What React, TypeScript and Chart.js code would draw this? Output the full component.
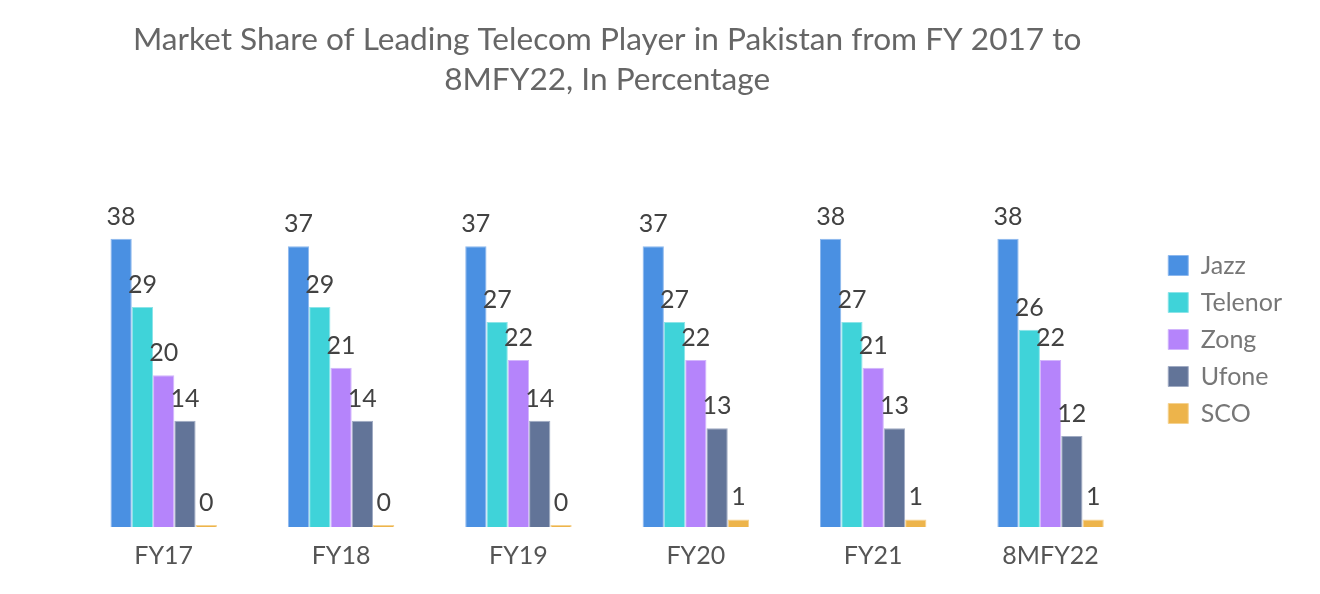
import React, { useEffect, useRef } from "react";
import { Chart, registerables } from "chart.js";

Chart.register(...registerables);

const categories = ["FY17", "FY18", "FY19", "FY20", "FY21", "8MFY22"];
const jazz = [38, 37, 37, 37, 38, 38];
const telenor = [29, 29, 27, 27, 27, 26];
const zong = [20, 21, 22, 22, 21, 22];
const ufone = [14, 14, 14, 13, 13, 12];
const sco = [0, 0, 0, 1, 1, 1];
const seriesNames = ["Jazz", "Telenor", "Zong", "Ufone", "SCO"];
const colors = ["#4A90E2", "#3FD3D9", "#B584FB", "#627498", "#EDB44B"];
const borders = ["#8DB8EE", "#8CE4E8", "#D2B5FC", "#A0ABC3", "#F5D290"];

const FONT = "Lato, 'Open Sans', sans-serif";

const valueLabels = {
  id: "valueLabels",
  afterDatasetsDraw(chart: any) {
    const ctx = chart.ctx;
    ctx.save();
    ctx.font = `25px ${FONT}`;
    ctx.fillStyle = "#424242";
    ctx.textAlign = "center";
    ctx.textBaseline = "alphabetic";
    chart.data.datasets.forEach((ds: any, i: number) => {
      const meta = chart.getDatasetMeta(i);
      meta.data.forEach((bar: any, j: number) => {
        ctx.fillText(String(ds.data[j]), bar.x, bar.y - 14);
      });
    });
    ctx.restore();
  },
};

export default function App() {
  const ref = useRef<HTMLCanvasElement>(null);
  useEffect(() => {
    const all = [jazz, telenor, zong, ufone, sco];
    const chart = new Chart(ref.current!, {
      type: "bar",
      data: {
        labels: categories,
        datasets: all.map((d, i) => ({
          label: seriesNames[i],
          data: d,
          backgroundColor: colors[i],
          borderColor: borders[i],
          borderWidth: 1,
          minBarLength: 2,
          barPercentage: 1,
          categoryPercentage: 0.6,
        })),
      },
      options: {
        animation: false,
        responsive: true,
        maintainAspectRatio: false,
        layout: { padding: { top: 10, left: 67, right: 20, bottom: 9 } },
        plugins: {
          title: {
            display: true,
            fullSize: false,
            text: [
              "Market Share of Leading Telecom Player in Pakistan from FY 2017 to",
              "8MFY22, In Percentage",
            ],
            font: { family: FONT, size: 31.6, weight: "normal", lineHeight: 1.27 },
            color: "#666666",
            padding: { top: 2, bottom: 86 },
          },
          legend: {
            position: "right",
            title: {
              display: true,
              text: " ",
              font: { size: 10, lineHeight: 1.2 },
              padding: { top: 72, bottom: 0 },
            },
            labels: {
              font: { family: FONT, size: 25 },
              color: "#777777",
              boxWidth: 20,
              boxHeight: 20,
              padding: 12,
            },
          },
          tooltip: { enabled: false },
        },
        scales: {
          x: {
            grid: { display: false },
            border: { display: false },
            ticks: { font: { family: FONT, size: 25 }, color: "#555555", padding: 6 },
          },
          y: {
            display: true,
            position: "right",
            min: 0,
            max: 44.9,
            grid: { display: false },
            border: { display: false },
            ticks: { display: false },
            afterFit: (axis: any) => {
              axis.width = 17;
            },
          },
        },
      },
      plugins: [valueLabels],
    });
    return () => chart.destroy();
  }, []);
  return (
    <div style={{ width: 1304, height: 578 }}>
      <canvas ref={ref} />
    </div>
  );
}
